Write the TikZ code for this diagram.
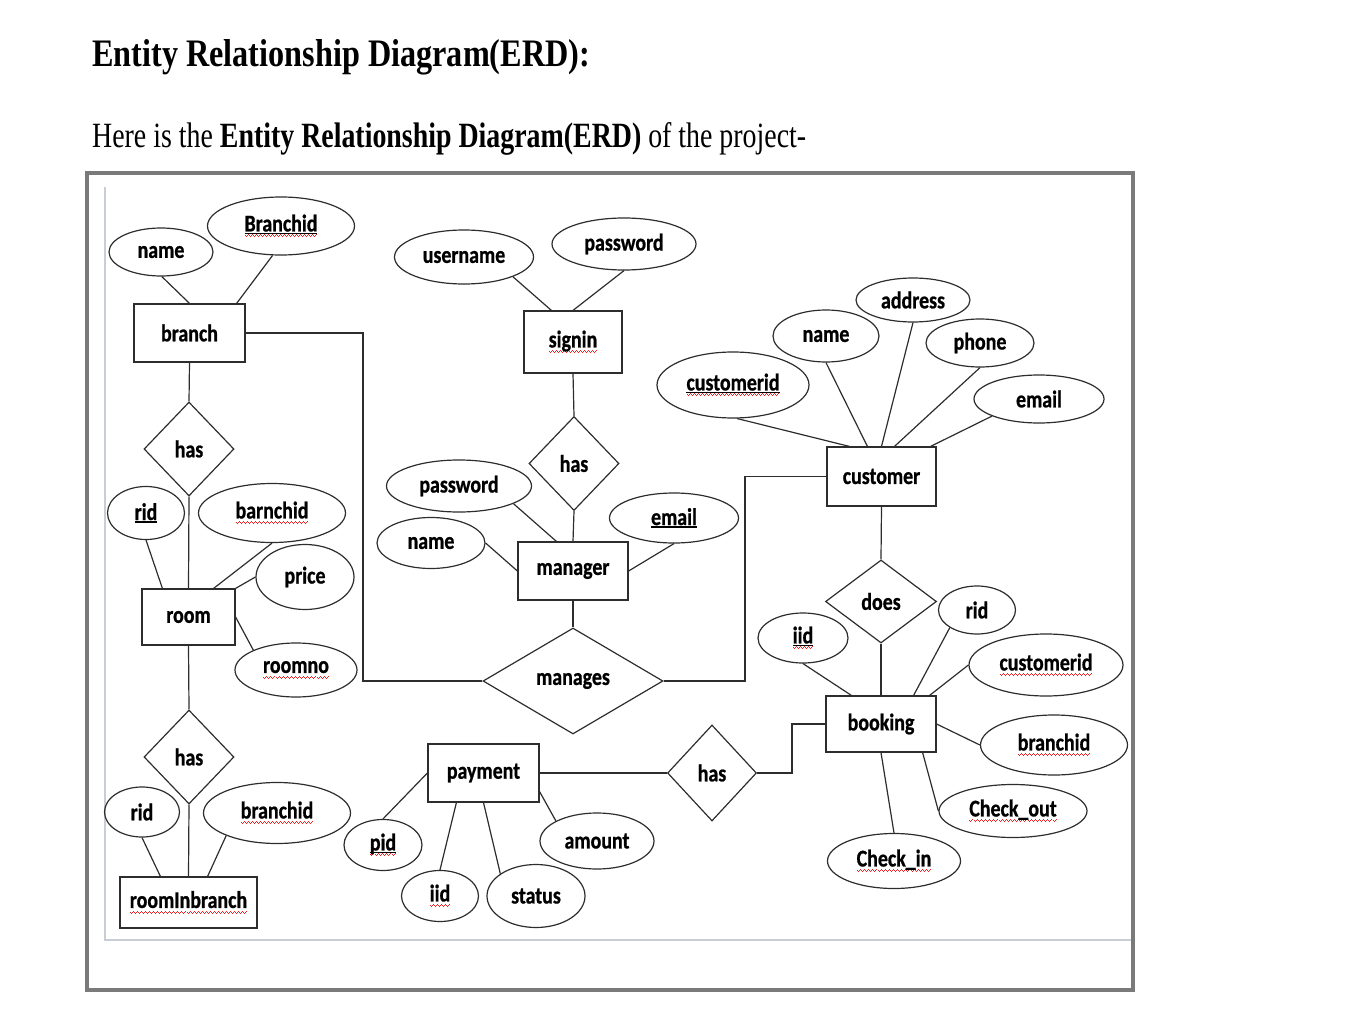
\documentclass[tikz,border=0pt]{standalone}
\usepackage{fontspec}
\usetikzlibrary{shapes.geometric,calc}
\setmainfont{Liberation Serif}
\newfontfamily\lblfont{Carlito}[FakeStretch=0.83,FakeBold=0.8]
\newcommand\lblf{\lblfont\bfseries\fontsize{24}{26}\selectfont}
\definecolor{framegray}{RGB}{122,122,122}
\definecolor{innergray}{RGB}{200,205,214}
\definecolor{linegray}{RGB}{45,45,45}
\definecolor{squigred}{RGB}{240,30,30}
\newsavebox\wbox
\newcommand\sqw[1]{\sbox\wbox{#1}\rlap{\textcolor{squigred}{\hbox to \wd\wbox{\xleaders\hbox{\rule[-5pt]{1pt}{1pt}\rule[-6pt]{1pt}{1pt}\rule[-5pt]{1pt}{1pt}\rule[-4pt]{1pt}{1pt}}\hfill}}}\usebox\wbox}
\newcommand\ulw[1]{\sbox\wbox{#1}\rlap{\rule[-2.8pt]{\wd\wbox}{1.5pt}}\usebox\wbox}
\tikzset{
  sz/.style 2 args={minimum width=#1pt, minimum height=#2pt},
  attr/.style={ellipse, draw=linegray, line width=1.2pt, inner sep=0pt, font=\lblf},
  ent/.style={rectangle, draw=linegray, line width=1.2pt, inner sep=0pt, font=\lblf},
  rel/.style={diamond, draw=linegray, line width=1.2pt, inner sep=0pt, font=\lblf},
  conn/.style={line width=1.2pt, draw=linegray},
}
\begin{document}
\begin{tikzpicture}[x=1pt,y=-1pt]
\useasboundingbox (0,0) rectangle (1353,1025);
% titles
\node[anchor=base west, inner sep=0pt] (title) at (92,67) {\resizebox{498pt}{27pt}{\bfseries Entity Relationship Diagram(ERD):}};
\node[anchor=base west, inner sep=0pt] (sub) at (92,147) {\resizebox{714pt}{25pt}{Here is the \textbf{Entity Relationship Diagram(ERD)} of the project-}};
% frame
\draw[line width=4pt, draw=framegray] (87,173) rectangle (1133,990);
\draw[line width=1.5pt, draw=innergray] (105,187) -- (105,940) -- (1131,940);

% entities
\node[ent, sz={111}{58}] (branch) at (189.5,333) {branch};
\node[ent, sz={98}{62}] (signin) at (573,342) {\sqw{signin}};
\node[ent, sz={109}{59}] (customer) at (881.5,476.5) {customer};
\node[ent, sz={93}{56}] (room) at (188.5,617) {room};
\node[ent, sz={110}{58}] (manager) at (573,571) {manager};
\node[ent, sz={110}{56}] (booking) at (881,724) {booking};
\node[ent, sz={111}{58}] (payment) at (483.5,773) {payment};
\node[ent, sz={137}{51}] (rib) at (188.5,902.5) {\sqw{roomInbranch}};

% relationships
\node[rel, sz={90}{94}] (has1) at (189,449) {has};
\node[rel, sz={90}{94}] (has3) at (574,463.5) {has};
\node[rel, sz={111}{83}] (does) at (881,601.5) {does};
\node[rel, sz={180}{106}] (manages) at (573,681) {manages};
\node[rel, sz={90}{94}] (has2) at (189,757) {has};
\node[rel, sz={89}{96}] (has4) at (712,773) {has};

% attributes
\node[attr, sz={104}{48}] (name1) at (161,252) {name};
\node[attr, sz={147}{58}] (bid1) at (281,226) {\sqw{\ulw{Branchid}}};
\node[attr, sz={139}{54}] (uname) at (464,257) {username};
\node[attr, sz={144}{52}] (pw1) at (624,244) {password};
\node[attr, sz={114}{44}] (addr) at (913,300) {address};
\node[attr, sz={106}{52}] (name3) at (826,336) {name};
\node[attr, sz={108}{48}] (phone) at (980,343) {phone};
\node[attr, sz={152}{66}] (cid1) at (733,385) {\sqw{\ulw{customerid}}};
\node[attr, sz={130}{48}] (email3) at (1039,399) {email};
\node[attr, sz={77}{53}] (rid1) at (146,513) {\ulw{rid}};
\node[attr, sz={147}{59}] (bnid) at (272,513) {\sqw{barnchid}};
\node[attr, sz={98}{65}] (price) at (305,577) {price};
\node[attr, sz={122}{54}] (roomno) at (296,670) {\sqw{roomno}};
\node[attr, sz={145}{52}] (pw2) at (459,486) {password};
\node[attr, sz={108}{51}] (name2) at (431,543) {name};
\node[attr, sz={129}{50}] (email2) at (674,518) {\ulw{email}};
\node[attr, sz={77}{48}] (rid3) at (977,610) {rid};
\node[attr, sz={90}{50}] (iid1) at (803,638) {\sqw{\ulw{iid}}};
\node[attr, sz={154}{62}] (cid2) at (1046,665) {\sqw{customerid}};
\node[attr, sz={147}{60}] (bid3) at (1054,745) {\sqw{branchid}};
\node[attr, sz={148}{53}] (cout) at (1013,811) {\sqw{Check\_out}};
\node[attr, sz={133}{55}] (cin) at (894,861) {\sqw{Check\_in}};
\node[attr, sz={75}{50}] (rid2) at (142,812) {rid};
\node[attr, sz={147}{61}] (bid2) at (277,813) {\sqw{branchid}};
\node[attr, sz={78}{51}] (pid) at (383,845) {\sqw{\ulw{pid}}};
\node[attr, sz={77}{51}] (iid2) at (440,896) {\sqw{iid}};
\node[attr, sz={98}{63}] (status) at (536,896) {status};
\node[attr, sz={114}{56}] (amount) at (597,841) {amount};

% helper bends
\coordinate (c1) at (363,333);
\coordinate (c2) at (745,476.5);
\coordinate (c3) at (792,724);

% connectors
\draw[conn] (name1.-88) -- (branch.north);
\draw[conn] (bid1.-106) -- ([xshift=-9pt]branch.north east);
\draw[conn] (branch.south) -- (has1.north);
\draw[conn] (branch.east) -- (c1) |- (manages.west);
\draw[conn] (manages.east) -| (c2) -- (customer.west);
\draw[conn] (has1.south) -- (room.north);
\draw[conn] (rid1.south) -- ([xshift=21pt]room.north west);
\draw[conn] (bnid.south) -- ([xshift=-22pt]room.north east);
\draw[conn] (price.west) -- (room.north east);
\draw[conn] (room.east) -- (roomno.155);
\draw[conn] (room.south) -- (has2.north);
\draw[conn] (has2.south) -- (rib.north);
\draw[conn] (rid2.south) -- ([xshift=41pt]rib.north west);
\draw[conn] (bid2.-156) -- ([xshift=-50pt]rib.north east);

\draw[conn] (uname.-22) -- ([xshift=28pt]signin.north west);
\draw[conn] (pw1.south) -- (signin.north);
\draw[conn] (signin.south) -- (has3.north);
\draw[conn] (has3.south) -- (manager.north);
\draw[conn] (pw2.-18) -- ([xshift=39pt]manager.north west);
\draw[conn] (name2.east) -- (manager.west);
\draw[conn] (email2.south) -- (manager.east);
\draw[conn] (manager.south) -- (manages.north);

\draw[conn] (cid1.-83) -- ([xshift=23pt]customer.north west);
\draw[conn] (name3.south) -- ([xshift=41pt]customer.north west);
\draw[conn] (addr.south) -- (customer.north);
\draw[conn] (phone.south) -- ([xshift=13pt]customer.north);
\draw[conn] (email3.-160) -- ([xshift=-6pt]customer.north east);
\draw[conn] (customer.south) -- (does.north);
\draw[conn] (does.south) -- (booking.north);

\draw[conn] (iid1.south) -- ([xshift=26pt]booking.north west);
\draw[conn] (rid3.-147) -- ([xshift=-23pt]booking.north east);
\draw[conn] (cid2.west) -- ([xshift=-7pt]booking.north east);
\draw[conn] (booking.east) -- (bid3.west);
\draw[conn] ([xshift=-14pt]booking.south east) -- (cout.west);
\draw[conn] (booking.south) -- (cin.north);
\draw[conn] (booking.west) -- (c3) |- (has4.east);

\draw[conn] (payment.east) -- (has4.west);
\draw[conn] (pid.north) -- (payment.west);
\draw[conn] (iid2.north) -- ([xshift=29pt]payment.south west);
\draw[conn] (status.148) -- (payment.south);
\draw[conn] (amount.154) -- ([yshift=11pt]payment.south east);
\end{tikzpicture}
\end{document}
